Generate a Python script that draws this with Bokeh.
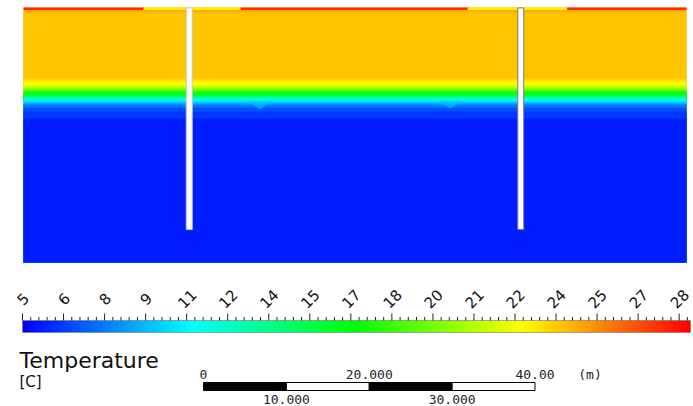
import numpy as np
from bokeh.plotting import figure
from bokeh.models import Range1d, LinearColorMapper, ColumnDataSource
from bokeh.transform import linear_cmap
from bokeh.core.properties import value
from bokeh.embed import file_html
from bokeh.resources import INLINE

# ---------------- data ----------------
domain_length = 80.0      # m
domain_depth = 31.0       # m

# vertical temperature profile (layer top depth in m, temperature in C)
layer_top_depth = [0.0, 0.6, 8.63, 8.87, 9.11, 9.36, 9.6, 9.84, 10.08, 10.33,
                   10.57, 10.81, 11.06, 11.3, 11.54, 11.79, 12.15, 12.64, 13.5]
layer_temp = [24.6, 24.0, 23.6, 23.0, 22.6, 22.0, 21.0, 19.5, 17.8, 16.6,
              15.2, 13.3, 11.5, 10.3, 9.0, 7.8, 6.9, 6.3, 5.7]

# thin surface skin (x spans in m)
surface_x0 = [0.0, 14.5, 26.2, 53.6, 65.6]
surface_x1 = [14.5, 26.2, 53.6, 65.6, 80.0]
surface_temp = [27.6, 23.0, 27.6, 23.0, 27.6]
surface_thickness = 0.3

# cool tongues below the thermocline (centre x, half width, top depth, tip depth, temp)
dip_x = [28.5, 51.5]
dip_half_width = [1.6, 1.6]
dip_top = [11.3, 11.3]
dip_tip = [12.4, 12.3]
dip_temp = [9.8, 9.8]

# baffles
baffle_x = [20.0, 60.0]
baffle_bottom = [27.0, 27.0]
baffle_edge = ["#c8c8c8", "#7a7a7a"]

# colour bar
t_min, t_max = 5.0, 28.6
cbar_tick_start, cbar_tick_step = 5.0, 1.45
cbar_labels = ["5", "6", "8", "9", "11", "12", "14", "15", "17", "18",
               "20", "21", "22", "24", "25", "27", "28"]

# scale bar (m)
scale_edges = [0, 10, 20, 30, 40]
scale_top_labels = ["0", "20.000", "40.00"]
scale_top_pos = [0, 20, 40]
scale_bot_labels = ["10.000", "30.000"]
scale_bot_pos = [10, 30]

# ---------------- palette (rainbow) ----------------
anchors = np.array([[0, 0, 255], [0, 255, 255], [0, 255, 0], [255, 255, 0], [255, 0, 0]], float)
palette = []
for i in range(256):
    f = i / 255 * 4
    k = min(int(f), 3)
    c = anchors[k] + (anchors[k + 1] - anchors[k]) * (f - k)
    palette.append("#%02x%02x%02x" % tuple(int(round(v)) for v in c))
mapper = LinearColorMapper(palette=palette, low=t_min, high=t_max)
cm = linear_cmap("temp", palette, t_min, t_max)

W, H = 693, 406
# page layout (px)
FX0, FX1, FY0, FY1 = 23, 686, 7, 262      # field frame
pxm = (FX1 - FX0) / domain_length
sy = (FY1 - FY0) / domain_depth
CB0, CB1 = 22, 690                         # colour bar
k = (CB1 - CB0) / (t_max - t_min)
SB0 = 203                                  # scale bar origin

p = figure(width=W, height=H, x_range=Range1d(0, W), y_range=Range1d(0, H),
           toolbar_location=None, output_backend="svg", x_axis_location=None,
           y_axis_location=None, min_border=0, outline_line_color=None)
p.grid.visible = False
p.extra_x_ranges = {"fx": Range1d(-FX0 / pxm, (W - FX0) / pxm),
                    "temp": Range1d(t_min - CB0 / k, t_min + (W - CB0) / k),
                    "m": Range1d(-SB0 / pxm, (W - SB0) / pxm)}
p.extra_y_ranges = {"depth": Range1d((H - FY0) / sy, -FY0 / sy)}

# ---------------- field ----------------
src_layers = ColumnDataSource(dict(top=layer_top_depth,
                                   bottom=[domain_depth] * len(layer_top_depth),
                                   temp=layer_temp))
p.quad(left=0, right=domain_length, top="top", bottom="bottom", source=src_layers,
       fill_color=cm, line_color=None, x_range_name="fx", y_range_name="depth")

dip_xs = [[x - w, x, x + w] for x, w in zip(dip_x, dip_half_width)]
dip_ys = [[t, b, t] for t, b in zip(dip_top, dip_tip)]
p.patches(xs=dip_xs, ys=dip_ys,
          fill_color=[palette[int((t - t_min) / (t_max - t_min) * 255)] for t in dip_temp],
          fill_alpha=0.55, line_color=None, x_range_name="fx", y_range_name="depth")

src_surf = ColumnDataSource(dict(x0=surface_x0, x1=surface_x1, temp=surface_temp))
p.quad(left="x0", right="x1", top=0, bottom=surface_thickness, source=src_surf,
       fill_color=cm, line_color=None, x_range_name="fx", y_range_name="depth")

p.quad(left=[x - 0.36 for x in baffle_x], right=[x + 0.36 for x in baffle_x],
       top=[0.05] * len(baffle_x), bottom=baffle_bottom, fill_color="white",
       line_color=baffle_edge, line_width=1, x_range_name="fx", y_range_name="depth")

# ---------------- colour bar ----------------
ramp = np.linspace(t_min, t_max, 600)[None, :]
p.image(image=[ramp], x=t_min, y=74, dw=t_max - t_min, dh=12,
        color_mapper=mapper, x_range_name="temp")
p.quad(left=t_min, right=t_max, bottom=74, top=86, fill_color=None,
       line_color="#777777", line_width=0.6, x_range_name="temp")

ticks = [cbar_tick_start + i * cbar_tick_step for i in range(len(cbar_labels))]
minor = []
i = 0
while True:
    t = cbar_tick_start + i * cbar_tick_step / 5
    if t > t_max:
        break
    if i % 5:
        minor.append(t)
    i += 1
p.segment(x0=ticks, x1=ticks, y0=[86] * len(ticks), y1=[93] * len(ticks),
          line_color="#222222", line_width=1, x_range_name="temp")
p.segment(x0=minor, x1=minor, y0=[86] * len(minor), y1=[89.5] * len(minor),
          line_color="#222222", line_width=1, x_range_name="temp")
p.text(x=ticks, y=[108] * len(ticks), text=cbar_labels, angle=np.pi / 4,
       text_align="center", text_baseline="middle", text_font_size="15px",
       text_font=value("DejaVu Sans"), text_color="#111111", x_range_name="temp")

p.text(x=[19], y=[46], text=["Temperature"], text_font_size="22px",
       text_font=value("DejaVu Sans"), text_color="#111111",
       text_baseline="alphabetic")
p.text(x=[19], y=[25], text=["[C]"], text_font_size="15px",
       text_font=value("DejaVu Sans"), text_color="#111111",
       text_baseline="middle")

# ---------------- scale bar ----------------
seg_l = scale_edges[:-1]
seg_r = scale_edges[1:]
seg_c = ["black" if j % 2 == 0 else "white" for j in range(len(seg_l))]
p.quad(left=seg_l, right=seg_r, bottom=16, top=24, fill_color=seg_c,
       line_color="black", line_width=1, x_range_name="m")
mono = dict(text_font_size="13px", text_font=value("DejaVu Sans Mono"),
            text_color="#222222", text_baseline="middle", x_range_name="m")
p.text(x=scale_top_pos, y=[32] * len(scale_top_pos), text=scale_top_labels,
       text_align="center", **mono)
p.text(x=[scale_top_pos[-1]], y=[32], text=["(m)"], x_offset=55,
       text_align="center", **mono)
p.text(x=scale_bot_pos, y=[7] * len(scale_bot_pos), text=scale_bot_labels,
       text_align="center", **mono)

open("out.html", "w").write(file_html(p, INLINE))
